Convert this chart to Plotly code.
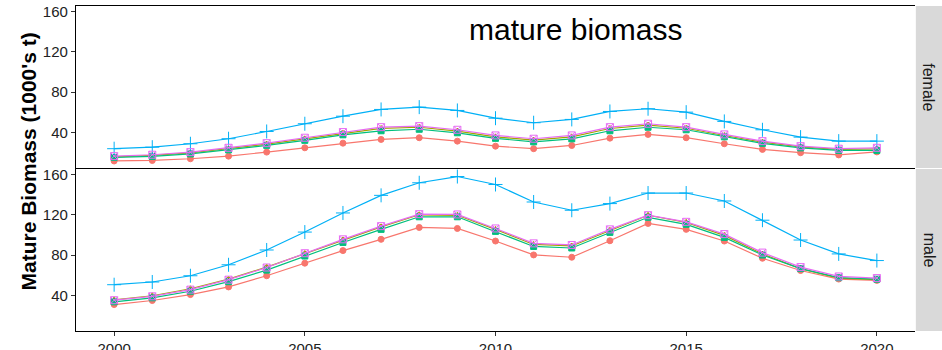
import plotly.graph_objects as go
from plotly.subplots import make_subplots

years = list(range(2000, 2021))

female_red = [11.5, 12, 13.7, 16.3, 20.3, 24.6, 29.2, 32.9, 34.6, 31.2, 26.2, 23.7, 26.9, 34.2, 37.9, 34.6, 28.6, 23.0, 19.7, 17.5, 20.5]
female_olive = [15.5, 17, 19.5, 23.5, 28.2, 33.5, 39, 43.8, 45, 41.2, 35.5, 32.2, 35.5, 43.8, 47.2, 44, 36.8, 30.2, 25.5, 23, 23.5]
female_green = [15, 16, 18.5, 22.5, 27, 32, 37.5, 41.5, 43, 39.5, 34, 30.5, 33.5, 41.5, 45, 42.5, 35.5, 29, 24.5, 22, 22]
female_blue = [23.7, 25.2, 28.6, 33.6, 40.8, 48.5, 56.0, 62.7, 65.0, 61.7, 54.0, 49.5, 52.8, 60.7, 63.4, 60.0, 50.8, 42.5, 35.2, 31.2, 31.2]
female_pink = [16.3, 17.7, 20.3, 24.6, 29.2, 34.6, 40.2, 45.1, 46.1, 42.5, 36.9, 33.6, 36.9, 45.1, 48.5, 45.1, 37.9, 31.2, 26.2, 23.7, 24.6]

male_red = [30.8, 34.8, 40.7, 48.3, 59.4, 71.9, 84.4, 95.6, 107.4, 106.4, 93.9, 80.1, 77.8, 94.2, 111.4, 105.5, 93.9, 76.8, 64.6, 56.1, 54.8]
male_olive = [35.5, 39.5, 46.5, 56, 68, 81.5, 95, 108, 120, 119.5, 105.5, 90.5, 89, 104.5, 119.5, 112.5, 99.5, 81, 66.5, 57, 55.5]
male_green = [33.5, 37.5, 44, 53.5, 65, 79, 92.5, 105.5, 118, 118, 103.5, 88.5, 87, 102.5, 117.5, 110.5, 97.5, 80, 66.5, 57.5, 56]
male_blue = [50.5, 53.2, 59.4, 70.3, 85, 102.8, 121.8, 139.3, 151.8, 158, 150.1, 132.7, 124.5, 131.1, 141.6, 141.6, 133.7, 114.6, 94.9, 81.1, 74.5]
male_pink = [35.1, 39, 45.6, 55.5, 67.6, 81.8, 95.6, 108.7, 120.6, 120.3, 106.4, 91.6, 90, 105.5, 119.6, 113, 100.8, 82.4, 68, 58.7, 57.1]

colors = ["#F8766D", "#A3A500", "#00BF7D", "#00B0F6", "#E76BF3"]
symbols = ["circle", "triangle-up", "square", "cross-thin-open", "square-x-open"]
sizes = [6, 6, 6, 10, 7]

fig = make_subplots(rows=2, cols=1, shared_xaxes=True, vertical_spacing=0.003)

female = [female_red, female_olive, female_green, female_blue, female_pink]
male = [male_red, male_olive, male_green, male_blue, male_pink]

for row, data in ((1, female), (2, male)):
    for i, vals in enumerate(data):
        fig.add_trace(go.Scatter(
            x=years, y=vals, mode="lines+markers",
            line=dict(color=colors[i], width=1.2),
            marker=dict(color=colors[i], symbol=symbols[i], size=sizes[i],
                        line=dict(color=colors[i], width=1)),
            showlegend=False), row=row, col=1)

tickfont = dict(family="Liberation Sans, Arial, sans-serif", size=15, color="#222222")
for r in (1, 2):
    fig.update_yaxes(range=[4.5, 165.5], tickvals=[40, 80, 120, 160], showgrid=False,
                     zeroline=False, showline=True, linecolor="black", linewidth=1.2,
                     ticks="outside", ticklen=4, tickcolor="#333333", tickfont=tickfont,
                     automargin=False, row=r, col=1)
fig.update_xaxes(range=[1999, 2021], showgrid=False, zeroline=False, showline=True,
                 linecolor="black", linewidth=1.2, row=1, col=1, showticklabels=False,
                 ticks="", mirror=True, automargin=False)
fig.update_xaxes(range=[1999, 2021], tickvals=[2000, 2005, 2010, 2015, 2020], showgrid=False,
                 zeroline=False, showline=True, linecolor="black", linewidth=1.2,
                 ticks="outside", ticklen=4, tickcolor="#333333", tickfont=tickfont,
                 automargin=False, row=2, col=1)

# strips
fig.add_shape(type="rect", xref="paper", yref="paper", x0=1.001, x1=1.04, y0=0.5015, y1=1.0,
              fillcolor="#D9D9D9", line=dict(width=0))
fig.add_shape(type="rect", xref="paper", yref="paper", x0=1.001, x1=1.04, y0=0.0, y1=0.4985,
              fillcolor="#D9D9D9", line=dict(width=0))
strip_font = dict(family="Liberation Sans, Arial, sans-serif", size=16, color="#1A1A1A")
fig.add_annotation(text="female", xref="paper", yref="paper", x=1.0, xshift=14, y=0.75,
                   xanchor="center", yanchor="middle", textangle=90, showarrow=False,
                   font=strip_font)
fig.add_annotation(text="male", xref="paper", yref="paper", x=1.0, xshift=14, y=0.25,
                   xanchor="center", yanchor="middle", textangle=90, showarrow=False,
                   font=strip_font)

fig.add_annotation(text="mature biomass", xref="x", yref="y", x=2012.1, y=142,
                   showarrow=False,
                   font=dict(family="Liberation Sans, Arial, sans-serif", size=30, color="black"))

fig.add_annotation(text="<b>Mature Biomass (1000's t)</b>", xref="paper", yref="paper",
                   x=0, xshift=-48, y=0.5, yshift=7, xanchor="center", yanchor="middle",
                   textangle=-90, showarrow=False,
                   font=dict(family="Liberation Sans, Arial, sans-serif", size=21, color="black"))

fig.update_layout(width=942, height=350, margin=dict(l=76, r=27, t=6, b=19, autoexpand=False),
                  plot_bgcolor="white", paper_bgcolor="white")

fig.write_html("out.html", config={"displayModeBar": False},
               post_script="document.body.style.margin='0';document.body.style.overflow='hidden';")
